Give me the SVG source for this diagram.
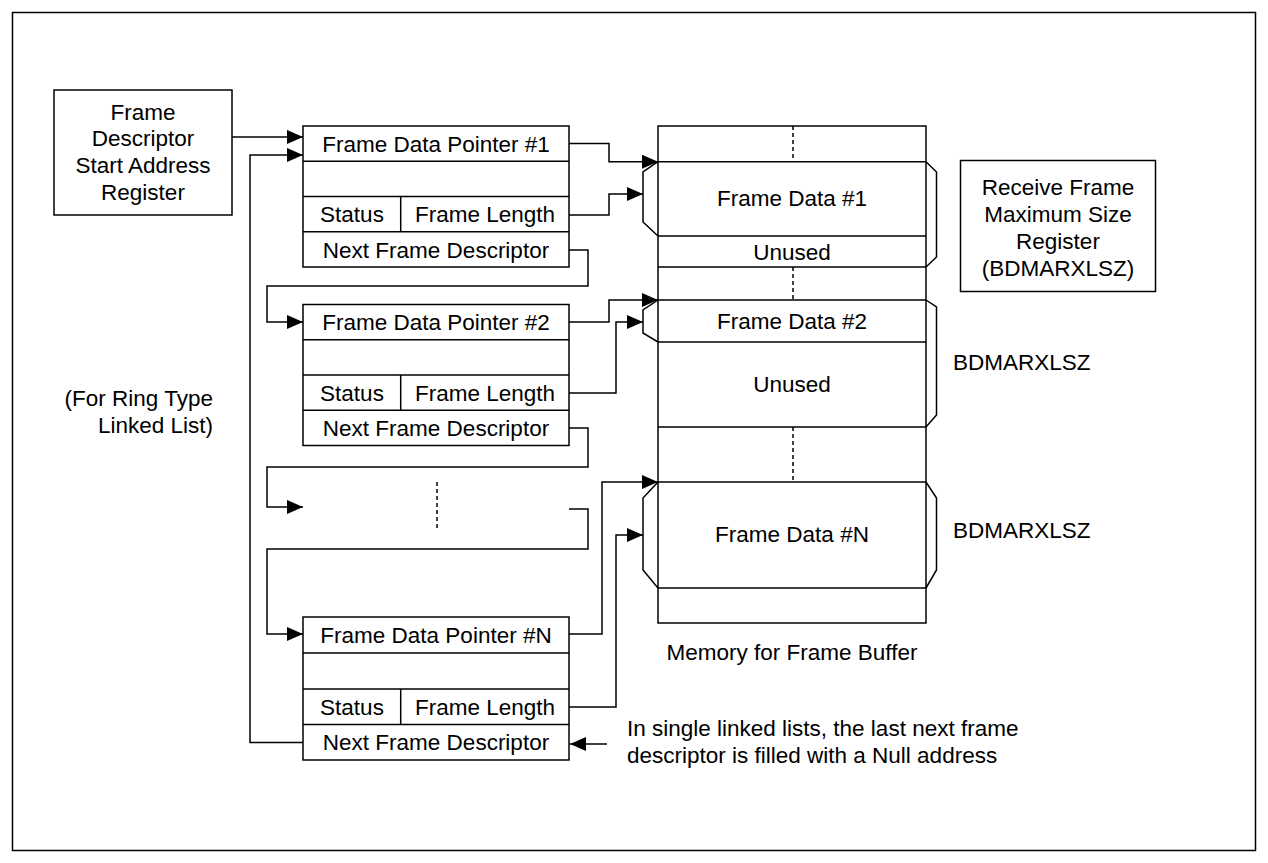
<svg xmlns="http://www.w3.org/2000/svg" width="1268" height="863" viewBox="0 0 1268 863">
<style>
  text { font-family: "Liberation Sans", Arial, sans-serif; font-size: 22.5px; fill: #000; }
  .c { text-anchor: middle; }
  .e { text-anchor: end; }
  .box { fill: #fff; stroke: #000; stroke-width: 1.5; }
  .ln { fill: none; stroke: #000; stroke-width: 1.5; }
  .dash { fill: none; stroke: #000; stroke-width: 1.5; stroke-dasharray: 4 3; }
  .arr { marker-end: url(#ah); }
</style>
<defs>
  <marker id="ah" markerUnits="userSpaceOnUse" markerWidth="16" markerHeight="14" refX="16" refY="7" orient="auto">
    <path d="M0,0 L16,7 L0,14 Z" fill="#000"/>
  </marker>
</defs>
<rect x="0" y="0" width="1268" height="863" fill="#fff"/>
<rect x="12.5" y="12.5" width="1243" height="838" class="ln"/>

<g id="start-register">
  <rect x="54" y="90" width="178" height="125" class="box"/>
  <text x="143" y="120" class="c">Frame</text>
  <text x="143" y="146" class="c">Descriptor</text>
  <text x="143" y="173" class="c">Start Address</text>
  <text x="143" y="200" class="c">Register</text>
</g>

<g id="descriptor-1">
  <rect x="303" y="126" width="266" height="141" class="box"/>
  <path d="M303,161.3 H569 M303,196.5 H569 M303,231.8 H569 M400.7,196.5 V231.8" class="ln"/>
  <text x="436" y="151.5" class="c">Frame Data Pointer #1</text>
  <text x="352" y="222" class="c">Status</text>
  <text x="485" y="222" class="c">Frame Length</text>
  <text x="436" y="257.5" class="c">Next Frame Descriptor</text>
</g>

<g id="descriptor-2">
  <rect x="303" y="304.5" width="266" height="141" class="box"/>
  <path d="M303,339.8 H569 M303,375 H569 M303,410.3 H569 M400.7,375 V410.3" class="ln"/>
  <text x="436" y="330" class="c">Frame Data Pointer #2</text>
  <text x="352" y="400.5" class="c">Status</text>
  <text x="485" y="400.5" class="c">Frame Length</text>
  <text x="436" y="436" class="c">Next Frame Descriptor</text>
</g>

<g id="descriptor-n">
  <rect x="303" y="617" width="266" height="143" class="box"/>
  <path d="M303,653 H569 M303,689 H569 M303,724.5 H569 M400.7,689 V724.5" class="ln"/>
  <text x="436" y="643" class="c">Frame Data Pointer #N</text>
  <text x="352" y="714.5" class="c">Status</text>
  <text x="485" y="714.5" class="c">Frame Length</text>
  <text x="436" y="750" class="c">Next Frame Descriptor</text>
</g>

<g id="memory">
  <rect x="658" y="126" width="268" height="497" class="box"/>
  <path d="M658,161.7 H926 M658,236 H926 M658,267 H926 M658,300 H926 M658,342 H926 M658,427 H926 M658,482 H926 M658,588 H926" class="ln"/>
  <path d="M793,126 V161.7 M793,267 V300 M793,427 V482" class="dash"/>
  <text x="792" y="206" class="c">Frame Data #1</text>
  <text x="792" y="259.5" class="c">Unused</text>
  <text x="792" y="329" class="c">Frame Data #2</text>
  <text x="792" y="392" class="c">Unused</text>
  <text x="792" y="542" class="c">Frame Data #N</text>
  <text x="792" y="660" class="c">Memory for Frame Buffer</text>
</g>

<g id="brackets">
  <path d="M658,161.7 L643,172 V222 L658,236" class="ln"/>
  <path d="M926,161.7 L936.5,172 V257 L926,267" class="ln"/>
  <path d="M658,300 L643,310 V333 L658,342" class="ln"/>
  <path d="M926,300 L936.5,307 V415 L926,427" class="ln"/>
  <path d="M658,482 L643,498 V570 L658,588" class="ln"/>
  <path d="M926,482 L936.5,498 V570 L926,588" class="ln"/>
</g>

<g id="max-size-register">
  <rect x="960.5" y="160.5" width="195" height="131" class="box"/>
  <text x="1058" y="195" class="c">Receive Frame</text>
  <text x="1058" y="222" class="c">Maximum Size</text>
  <text x="1058" y="249" class="c">Register</text>
  <text x="1058" y="276" class="c">(BDMARXLSZ)</text>
</g>

<g id="labels">
  <text x="953" y="370">BDMARXLSZ</text>
  <text x="953" y="538">BDMARXLSZ</text>
  <text x="213" y="406" class="e">(For Ring Type</text>
  <text x="213" y="433" class="e">Linked List)</text>
  <text x="627" y="736">In single linked lists, the last next frame</text>
  <text x="627" y="763">descriptor is filled with a Null address</text>
</g>

<g id="connectors">
  <path d="M232,137 H303" class="ln arr"/>
  <path d="M303,742.5 H250 V155 H303" class="ln arr"/>
  <path d="M569,143.5 H609 V161.7 H658" class="ln arr"/>
  <path d="M569,215 H609 V194 H643" class="ln arr"/>
  <path d="M569,250 H588 V286 H267 V322 H303" class="ln arr"/>
  <path d="M569,322 H609 V300 H658" class="ln arr"/>
  <path d="M569,393 H616 V322 H643" class="ln arr"/>
  <path d="M569,428 H588 V467 H267 V507 H303" class="ln arr"/>
  <path d="M437,482 V528" class="dash"/>
  <path d="M569,509 H588 V549 H267 V634 H303" class="ln arr"/>
  <path d="M569,634 H602 V482 H658" class="ln arr"/>
  <path d="M569,707 H616 V535 H643" class="ln arr"/>
  <path d="M607,744 H570" class="ln arr"/>
</g>
</svg>
